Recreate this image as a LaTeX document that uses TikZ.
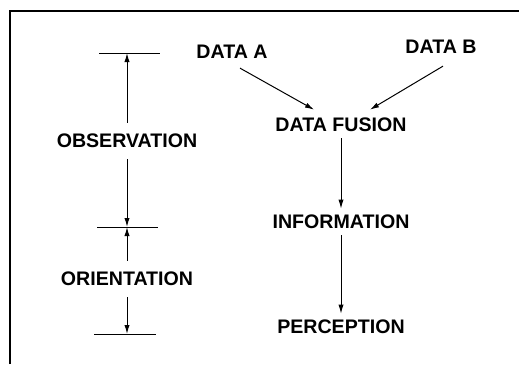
\documentclass[tikz,border=0pt]{standalone}
\usepackage{fontspec}
\setmainfont{Liberation Sans}
\usetikzlibrary{arrows.meta,positioning,calc}

\begin{document}
\begin{tikzpicture}[x=0.5pt,y=-0.5pt,>={Latex[length=4.5pt,width=2.6pt]}, every node/.style={font=\bfseries\fontsize{9.8}{11}\selectfont}]
\tikzstyle{flow}=[inner sep=3pt]
\tikzstyle{phase}=[inner sep=5.5pt]
\tikzstyle{link}=[line width=0.5pt]
\useasboundingbox (0,0) rectangle (519,364);
% frame
\draw[line width=0.8pt] (10,364) -- (10,11) -- (519,11);
% time marks
\coordinate (m1) at (127,53);
\coordinate (m2) at (127,227);
\coordinate (m3) at (127,334);
\draw[link] (99,53) -- (160,53);
\draw[link] (97,227) -- (158,227);
\draw[link] (94,334) -- (156,334);
\node[phase] (obs) at (127,141) {OBSERVATION};
\node[phase] (ori) at (127,279) {ORIENTATION};
\draw[link,->] (obs.north) -- (m1);
\draw[link,->] (obs.south) -- (m2);
\draw[link,->] (ori.north) -- (m2);
\draw[link,->] (ori.south) -- (m3);
% fusion chain
\node[flow] (da) at (232,52) {DATA A};
\node[flow] (db) at (441,47) {DATA B};
\node[flow] (fus) at (341,125) {DATA FUSION};
\node[flow] (inf) at (341,222) {INFORMATION};
\node[flow] (per) at (341,327) {PERCEPTION};
\draw[link,->] ($(da.south)+(8,3)$) -- ($(fus.north)+(-27,-2)$);
\draw[link,->] ($(db.south)+(2,6)$) -- ($(fus.north)+(29,-2)$);
\draw[link,->] (fus) -- (inf);
\draw[link,->] (inf) -- (per);
\end{tikzpicture}
\end{document}
